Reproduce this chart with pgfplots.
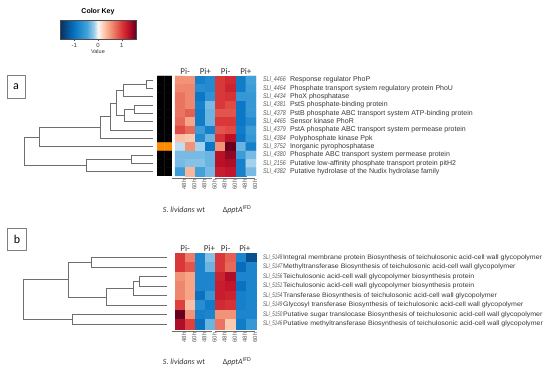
\documentclass[border=0pt]{standalone}
\usepackage{pgfplots}
\pgfplotsset{compat=1.18}
\usepackage{fontspec}
\setmainfont{Liberation Sans}
\newfontfamily\calfont{Carlito}
\definecolor{idgray}{RGB}{90,90,90}
\definecolor{txtgray}{RGB}{55,55,55}
\definecolor{dendro}{RGB}{110,110,110}
\pgfplotsset{
  colormap={heat}{rgb255(0pt)=(5,48,97) rgb255(20pt)=(10,118,198) rgb255(35pt)=(68,163,218) rgb255(45pt)=(158,206,235) rgb255(50pt)=(247,247,247) rgb255(55pt)=(253,215,195) rgb255(65pt)=(246,160,128) rgb255(80pt)=(220,62,60) rgb255(90pt)=(192,18,42) rgb255(100pt)=(103,0,31)},
  colormap={strip}{rgb255(0pt)=(0,0,0) rgb255(1pt)=(255,140,0)}
}
\newcommand{\gla}[2]{\makebox[27pt][l]{\textcolor{idgray}{\fontsize{7}{7}\selectfont\scalebox{0.76}[1]{\itshape #1}}}#2}
\newcommand{\glb}[2]{\makebox[20pt][l]{\textcolor{idgray}{\fontsize{6.8}{7}\selectfont\scalebox{0.66}[1]{\itshape #1}}}\scalebox{1.08}[1]{#2}}
\begin{document}
\begin{tikzpicture}
\useasboundingbox (0,0) rectangle (550pt,-371pt);

% ---------------- Color key ----------------
\begin{axis}[at={(60pt,-20pt)}, anchor=north west, scale only axis,
  width=76pt, height=19pt, xmin=-1.6, xmax=1.6, ymin=0, ymax=1,
  xtick={-1,0,1}, ytick=\empty, xtick pos=bottom, tick align=outside,
  major tick length=2pt, tick style={gray!60!black},
  xticklabel style={font=\fontsize{6}{6}\selectfont, text=txtgray, yshift=1pt},
  /pgf/number format/assume math mode=true,
  xlabel={Value}, xlabel style={font=\fontsize{5.5}{6}\selectfont, text=txtgray, yshift=5pt},
  title={Color Key}, title style={font=\bfseries\fontsize{7}{8}\selectfont, yshift=-4pt},
  axis line style={gray!60!black, line width=0.4pt},
  colormap name=heat, point meta min=-1.6, point meta max=1.6, axis on top]
\addplot[surf, shader=interp, mesh/cols=10, point meta=x] table {
x y
-1.6 0
-0.96 0
-0.48 0
-0.16 0
0 0
0.16 0
0.48 0
0.96 0
1.28 0
1.6 0
-1.6 1
-0.96 1
-0.48 1
-0.16 1
0 1
0.16 1
0.48 1
0.96 1
1.28 1
1.6 1
};
\end{axis}

% ---------------- Panel a ----------------
\node[draw=gray, line width=0.5pt, minimum width=18pt, minimum height=23pt, inner sep=0pt,
  font=\calfont\fontsize{12}{12}\selectfont] at (16pt,-86.5pt) {a};

% dendrogram a
\begin{axis}[at={(0pt,-76pt)}, anchor=north west, scale only axis,
  width=155pt, height=100pt, xmin=0, xmax=155, ymin=-0.5, ymax=11.5,
  y dir=reverse, hide axis, clip=false]
\addplot[dendro, line width=0.7pt] coordinates {(153,0) (146,0) (146,1) (153,1)};
\addplot[dendro, line width=0.7pt] coordinates {(146,0.5) (123,0.5) (123,2) (153,2)};
\addplot[dendro, line width=0.7pt] coordinates {(153,3) (134,3) (134,4) (153,4)};
\addplot[dendro, line width=0.7pt] coordinates {(134,3.5) (124,3.5) (124,5) (153,5)};
\addplot[dendro, line width=0.7pt] coordinates {(123,1.25) (116,1.25) (116,4.25) (124,4.25)};
\addplot[dendro, line width=0.7pt] coordinates {(116,2.75) (110,2.75) (110,6) (153,6)};
\addplot[dendro, line width=0.7pt] coordinates {(110,4.375) (100,4.375) (100,7) (153,7)};
\addplot[dendro, line width=0.7pt] coordinates {(100,5.6875) (39,5.6875) (39,8) (153,8)};
\addplot[dendro, line width=0.7pt] coordinates {(153,9) (131,9) (131,10) (153,10)};
\addplot[dendro, line width=0.7pt] coordinates {(131,9.5) (86,9.5) (86,11) (153,11)};
\addplot[dendro, line width=0.7pt] coordinates {(39,6.84) (24,6.84) (24,10.25) (86,10.25)};
\end{axis}

% side strip a
\begin{axis}[at={(157pt,-76pt)}, anchor=north west, scale only axis,
  width=15pt, height=100pt, xmin=-0.5, xmax=1.5, ymin=-0.5, ymax=11.5,
  y dir=reverse, hide axis, colormap name=strip, point meta min=0, point meta max=1]
\addplot[matrix plot*, mesh/cols=2, point meta=explicit] table[meta=c] {
x y c
0 0 0
1 0 0
0 1 0
1 1 0
0 2 0
1 2 0
0 3 0
1 3 0
0 4 0
1 4 0
0 5 0
1 5 0
0 6 0
1 6 0
0 7 0
1 7 0
0 8 1
1 8 1
0 9 0
1 9 0
0 10 0
1 10 0
0 11 0
1 11 0
};
\end{axis}

% heatmap a
\begin{axis}[at={(175pt,-76pt)}, anchor=north west, scale only axis,
  width=81pt, height=100pt, xmin=-0.5, xmax=7.5, ymin=-0.5, ymax=11.5,
  y dir=reverse, axis line style={draw=none}, tick style={draw=none},
  xtick={0,...,7}, xticklabels={48h,60h,48h,60h,48h,60h,48h,60h},
  xticklabel style={rotate=90, anchor=east, font=\fontsize{6}{6}\selectfont, text=idgray, yshift=-4pt},
  ytick={0,...,11}, yticklabel pos=right,
  yticklabels={
    {\gla{SLI\_4466}{Response regulator PhoP}},
    {\gla{SLI\_4464}{Phosphate transport system regulatory protein PhoU}},
    {\gla{SLI\_4434}{PhoX phosphatase}},
    {\gla{SLI\_4381}{PstS phosphate-binding protein}},
    {\gla{SLI\_4378}{PstB phosphate ABC transport system ATP-binding protein}},
    {\gla{SLI\_4465}{Sensor kinase PhoR}},
    {\gla{SLI\_4379}{PstA phosphate ABC transport system permease protein}},
    {\gla{SLI\_4384}{Polyphosphate kinase Ppk}},
    {\gla{SLI\_3752}{Inorganic pyrophosphatase}},
    {\gla{SLI\_4380}{Phosphate ABC transport system permease protein}},
    {\gla{SLI\_2156}{Putative low-affinity phosphate transport protein pitH2}},
    {\gla{SLI\_4382}{Putative hydrolase of the Nudix hydrolase family}}},
  yticklabel style={anchor=west, xshift=3.5pt, font=\fontsize{7}{7}\selectfont, text=txtgray},
  colormap name=heat, point meta min=-1.6, point meta max=1.6, clip=false]
\addplot[matrix plot*, mesh/cols=8, point meta=explicit] table[meta=c] {
x y c
0 0 0.55
1 0 0.55
2 0 -0.85
3 0 -0.75
4 0 1.0
5 0 1.1
6 0 -0.9
7 0 -0.5
0 1 0.6
1 1 0.6
2 1 -0.7
3 1 -0.75
4 1 1.0
5 1 1.15
6 1 -0.9
7 1 -0.55
0 2 0.7
1 2 0.6
2 2 -0.95
3 2 -0.65
4 2 1.0
5 2 1.05
6 2 -0.6
7 2 -0.6
0 3 0.7
1 3 0.6
2 3 -0.85
3 3 -0.3
4 3 1.0
5 3 0.9
6 3 -0.95
7 3 -0.6
0 4 0.7
1 4 0.8
2 4 -0.9
3 4 -0.35
4 4 0.85
5 4 0.85
6 4 -0.95
7 4 -0.6
0 5 0.75
1 5 0.45
2 5 -0.9
3 5 -0.35
4 5 1.0
5 5 1.0
6 5 -0.95
7 5 -0.75
0 6 0.9
1 6 0.75
2 6 -0.55
3 6 -0.85
4 6 0.85
5 6 0.9
6 6 -0.9
7 6 -0.55
0 7 0.3
1 7 0.25
2 7 -0.75
3 7 -0.35
4 7 1.05
5 7 1.3
6 7 -0.95
7 7 -0.6
0 8 -0.1
1 8 0.55
2 8 -0.15
3 8 -0.95
4 8 0.55
5 8 1.6
6 8 -0.35
7 8 -0.85
0 9 -0.3
1 9 -0.3
2 9 -0.3
3 9 -0.35
4 9 1.3
5 9 1.45
6 9 -0.55
7 9 -0.3
0 10 -0.3
1 10 -0.25
2 10 -0.25
3 10 -0.35
4 10 1.3
5 10 1.35
6 10 -0.85
7 10 -0.15
0 11 -0.55
1 11 0.35
2 11 -0.5
3 11 -0.3
4 11 1.2
5 11 1.25
6 11 -0.85
7 11 -0.3
};
\foreach \xx/\lab in {0.5/Pi-,2.5/Pi+,4.5/Pi-,6.5/Pi+}{
  \edef\tmp{\noexpand\node[anchor=south, inner sep=0.8pt, font=\noexpand\calfont\noexpand\fontsize{9}{9}\noexpand\selectfont, text=txtgray] at (axis cs:\xx,-0.5) {\lab};}\tmp
}
\end{axis}
\draw[dendro, line width=0.7pt] (172pt,-178.5pt) -- (212pt,-178.5pt);
\draw[dendro, line width=0.7pt] (215pt,-178.5pt) -- (255pt,-178.5pt);
\node[font=\calfont\fontsize{8}{8}\selectfont, text=txtgray] at (184pt,-210pt) {\textit{S. lividans} wt};
\node[font=\calfont\fontsize{8}{8}\selectfont, text=txtgray] at (237pt,-210pt) {Δ\textit{pptA}\textsuperscript{IFD}};

% ---------------- Panel b ----------------
\node[draw=gray, line width=0.5pt, minimum width=19pt, minimum height=22pt, inner sep=0pt,
  font=\calfont\fontsize{12}{12}\selectfont] at (17pt,-239pt) {b};

% dendrogram b
\begin{axis}[at={(0pt,-253pt)}, anchor=north west, scale only axis,
  width=167pt, height=76pt, xmin=0, xmax=167, ymin=-0.5, ymax=7.5,
  y dir=reverse, hide axis, clip=false]
\addplot[dendro, line width=0.7pt] coordinates {(167,0) (91,0) (91,1) (167,1)};
\addplot[dendro, line width=0.7pt] coordinates {(167,2) (139,2) (139,3) (167,3)};
\addplot[dendro, line width=0.7pt] coordinates {(139,2.5) (133,2.5) (133,4) (167,4)};
\addplot[dendro, line width=0.7pt] coordinates {(133,3.25) (106,3.25) (106,5) (167,5)};
\addplot[dendro, line width=0.7pt] coordinates {(91,0.5) (68,0.5) (68,4.125) (106,4.125)};
\addplot[dendro, line width=0.7pt] coordinates {(167,6) (72,6) (72,7) (167,7)};
\addplot[dendro, line width=0.7pt] coordinates {(68,2.31) (23,2.31) (23,6.5) (72,6.5)};
\end{axis}

% heatmap b
\begin{axis}[at={(175pt,-253pt)}, anchor=north west, scale only axis,
  width=81pt, height=76pt, xmin=-0.5, xmax=7.5, ymin=-0.5, ymax=7.5,
  y dir=reverse, axis line style={draw=none}, tick style={draw=none},
  xtick={0,...,7}, xticklabels={48h,60h,48h,60h,48h,60h,48h,60h},
  xticklabel style={rotate=90, anchor=east, font=\fontsize{6}{6}\selectfont, text=idgray, yshift=-4pt},
  ytick={0,...,7}, yticklabel pos=right,
  yticklabels={
    {\glb{SLI\_5148}{Integral membrane protein Biosynthesis of teichulosonic acid-cell wall glycopolymer}},
    {\glb{SLI\_5147}{Methyltransferase Biosynthesis of teichulosonic acid-cell wall glycopolymer}},
    {\glb{SLI\_5156}{Teichulosonic acid-cell wall glycopolymer biosynthesis protein}},
    {\glb{SLI\_5151}{Teichulosonic acid-cell wall glycopolymer biosynthesis protein}},
    {\glb{SLI\_5154}{Transferase Biosynthesis of teichulosonic acid-cell wall glycopolymer}},
    {\glb{SLI\_5149}{Glycosyl transferase Biosynthesis of teichulosonic acid-cell wall glycopolymer}},
    {\glb{SLI\_5150}{Putative sugar translocase Biosynthesis of teichulosonic acid-cell wall glycopolymer}},
    {\glb{SLI\_5146}{Putative methyltransferase Biosynthesis of teichulosonic acid-cell wall glycopolymer}}},
  yticklabel style={anchor=west, xshift=3.5pt, font=\fontsize{6.5}{6.5}\selectfont, text=txtgray},
  colormap name=heat, point meta min=-1.6, point meta max=1.6, clip=false]
\addplot[matrix plot*, mesh/cols=8, point meta=explicit] table[meta=c] {
x y c
0 0 1.0
1 0 0.65
2 0 -0.8
3 0 -0.25
4 0 1.0
5 0 0.8
6 0 -0.8
7 0 -1.3
0 1 1.0
1 1 0.85
2 1 -0.8
3 1 -0.35
4 1 1.0
5 1 0.75
6 1 -1.05
7 1 -0.8
0 2 0.55
1 2 0.45
2 2 -0.8
3 2 -0.8
4 2 1.15
5 2 1.35
6 2 -0.8
7 2 -0.8
0 3 0.6
1 3 0.45
2 3 -0.8
3 3 -0.8
4 3 1.2
5 3 1.25
6 3 -1.0
7 3 -0.8
0 4 0.6
1 4 0.45
2 4 -1.0
3 4 -0.6
4 4 1.2
5 4 1.15
6 4 -0.85
7 4 -0.8
0 5 0.95
1 5 0.3
2 5 -0.7
3 5 -0.9
4 5 1.1
5 5 1.05
6 5 -0.85
7 5 -0.8
0 6 1.6
1 6 0.55
2 6 -0.85
3 6 -0.8
4 6 0.55
5 6 0.55
6 6 -0.8
7 6 -0.8
0 7 1.35
1 7 0.95
2 7 -1.0
3 7 -0.35
4 7 0.7
5 7 0.25
6 7 -0.9
7 7 -0.6
};
\foreach \xx/\lab in {0.5/Pi-,2.9/Pi+,4.5/Pi-,6.4/Pi+}{
  \edef\tmp{\noexpand\node[anchor=south, inner sep=0.8pt, font=\noexpand\calfont\noexpand\fontsize{9}{9}\noexpand\selectfont, text=txtgray] at (axis cs:\xx,-0.5) {\lab};}\tmp
}
\end{axis}
\draw[dendro, line width=0.7pt] (172pt,-331.5pt) -- (212pt,-331.5pt);
\draw[dendro, line width=0.7pt] (215pt,-331.5pt) -- (255pt,-331.5pt);
\node[font=\calfont\fontsize{8}{8}\selectfont, text=txtgray] at (184pt,-362pt) {\textit{S. lividans} wt};
\node[font=\calfont\fontsize{8}{8}\selectfont, text=txtgray] at (237pt,-362pt) {Δ\textit{pptA}\textsuperscript{IFD}};
\end{tikzpicture}
\end{document}
